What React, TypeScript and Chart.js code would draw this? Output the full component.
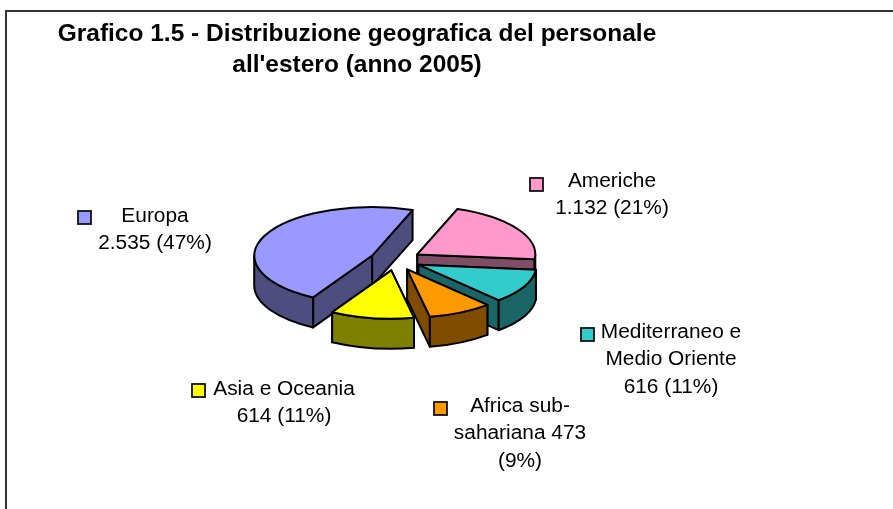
import React, { useEffect, useRef } from "react";
import { Chart, registerables } from "chart.js";

Chart.register(...registerables);

const categories = ["Americhe", "Mediterraneo e Medio Oriente", "Africa sub-sahariana", "Asia e Oceania", "Europa"];
const personnel = [1132, 616, 473, 614, 2535];
const topColors = ["#FF99CC", "#33CCCC", "#FF9900", "#FFFF00", "#9999FF"];
const wallColors = ["#804D66", "#1A6666", "#804D00", "#808000", "#4D4D80"];
const titleLines = ["Grafico 1.5 - Distribuzione geografica del personale", "all'estero (anno 2005)"];
const labelLines = [
  ["Americhe", "1.132 (21%)"],
  ["Mediterraneo e", "Medio Oriente", "616 (11%)"],
  ["Africa sub-", "sahariana 473", "(9%)"],
  ["Asia e Oceania", "614 (11%)"],
  ["Europa", "2.535 (47%)"],
];

// Layout of the text blocks: centre x, first baseline, marker left/top
const labelLayout = [
  { cx: 612, y: 187, mx: 530, my: 178 },
  { cx: 671, y: 338, mx: 581, my: 328 },
  { cx: 520, y: 412, mx: 434, my: 402 },
  { cx: 284, y: 395, mx: 192, my: 384 },
  { cx: 155, y: 222, mx: 78, my: 211 },
];
const drawOrder = [4, 0, 1, 2, 3];
const FLAT = 0.41;
const DEPTH = 30;
const LINE = "#000";

const stretchedText = (ctx: CanvasRenderingContext2D, text: string, x: number, y: number, sx: number) => {
  ctx.save();
  ctx.translate(x, y);
  ctx.scale(sx, 1);
  ctx.textAlign = "center";
  ctx.textBaseline = "alphabetic";
  ctx.fillText(text, 0, 0);
  ctx.restore();
};

const pie3d = {
  id: "pie3d",
  beforeDraw(chart: any) {
    const ctx: CanvasRenderingContext2D = chart.ctx;
    ctx.save();
    ctx.fillStyle = "#fff";
    ctx.fillRect(0, 0, chart.width, chart.height);
    ctx.fillStyle = "#333";
    ctx.fillRect(5, 10, chart.width - 5, 2);
    ctx.fillRect(5, 10, 2, chart.height - 10);
    ctx.restore();
  },
  beforeDatasetsDraw(chart: any) {
    const ctx: CanvasRenderingContext2D = chart.ctx;
    const arcs = chart.getDatasetMeta(0).data;
    ctx.save();
    ctx.lineWidth = 2;
    ctx.lineJoin = "round";
    ctx.strokeStyle = LINE;
    drawOrder.forEach((i) => {
      const arc = arcs[i];
      const { startAngle: a0, endAngle: a1, outerRadius: r } = arc;
      const mid = (a0 + a1) / 2;
      const cx = arc.x + Math.cos(mid) * arc.options.offset;
      const cy = arc.y + Math.sin(mid) * arc.options.offset * FLAT;
      const px = (a: number) => cx + r * Math.cos(a);
      const py = (a: number) => cy + r * FLAT * Math.sin(a);
      const paint = (fill: string) => {
        ctx.fillStyle = fill;
        ctx.fill();
        ctx.stroke();
      };
      // Straight cut faces
      [a0, a1].forEach((a) => {
        ctx.beginPath();
        ctx.moveTo(cx, cy);
        ctx.lineTo(px(a), py(a));
        ctx.lineTo(px(a), py(a) + DEPTH);
        ctx.lineTo(cx, cy + DEPTH);
        ctx.closePath();
        paint(wallColors[i]);
      });
      // Curved wall: only the part of the rim facing the viewer
      for (let k = -1; k <= 1; k++) {
        const from = Math.max(a0, k * 2 * Math.PI);
        const to = Math.min(a1, k * 2 * Math.PI + Math.PI);
        if (to > from) {
          ctx.beginPath();
          ctx.ellipse(cx, cy, r, r * FLAT, 0, from, to);
          ctx.lineTo(px(to), py(to) + DEPTH);
          ctx.ellipse(cx, cy + DEPTH, r, r * FLAT, 0, to, from, true);
          ctx.closePath();
          paint(wallColors[i]);
        }
      }
      // Top face
      ctx.beginPath();
      ctx.moveTo(cx, cy);
      ctx.ellipse(cx, cy, r, r * FLAT, 0, a0, a1);
      ctx.closePath();
      paint(topColors[i]);
    });
    ctx.restore();
    return false;
  },
  afterDraw(chart: any) {
    const ctx: CanvasRenderingContext2D = chart.ctx;
    ctx.save();
    ctx.fillStyle = "#000";
    ctx.font = 'bold 24px "Liberation Sans"';
    stretchedText(ctx, titleLines[0], 357, 41, 1.02);
    stretchedText(ctx, titleLines[1], 357, 72, 1.02);
    ctx.font = '19.5px "Liberation Sans"';
    labelLines.forEach((lines, i) => {
      const pos = labelLayout[i];
      lines.forEach((line, j) => {
        ctx.fillStyle = "#000";
        stretchedText(ctx, line, pos.cx, pos.y + j * 27.3, 1.07);
      });
      ctx.fillStyle = topColors[i];
      ctx.strokeStyle = "#111";
      ctx.lineWidth = 1.8;
      ctx.fillRect(pos.mx, pos.my, 13, 13);
      ctx.strokeRect(pos.mx, pos.my, 13, 13);
    });
    ctx.restore();
  },
};

export default function App() {
  const ref = useRef<HTMLCanvasElement>(null);
  useEffect(() => {
    const chart = new Chart(ref.current!, {
      type: "pie",
      data: {
        labels: categories,
        datasets: [{ data: personnel, backgroundColor: topColors, offset: 25.7, borderWidth: 0 }],
      },
      options: {
        animation: false,
        responsive: false,
        rotation: 20,
        radius: 118,
        layout: { padding: { left: 0, right: 102, top: 11, bottom: 0 } },
        plugins: { legend: { display: false }, title: { display: false }, tooltip: { enabled: false } },
      },
      plugins: [pie3d],
    } as any);
    return () => chart.destroy();
  }, []);
  return (
    <canvas
      ref={ref}
      width={893}
      height={509}
      style={{ position: "fixed", left: 0, top: 0, width: 893, height: 509, display: "block" }}
    />
  );
}
